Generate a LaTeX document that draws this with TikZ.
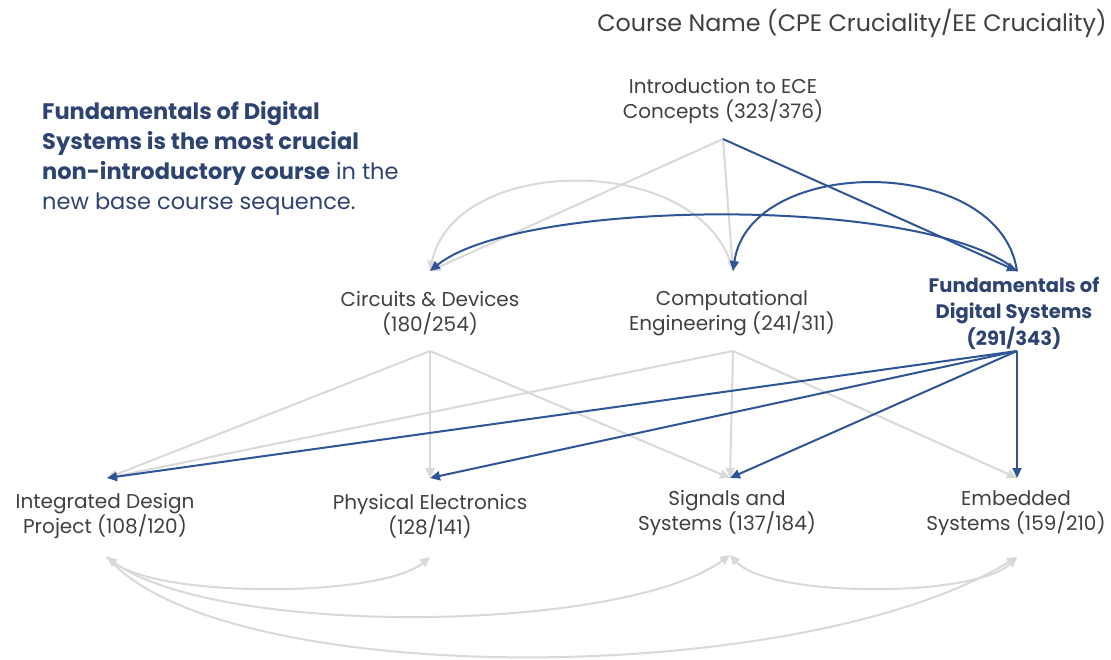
\documentclass[tikz,border=0pt]{standalone}
\usepackage{fontspec}
\setmainfont{Poppins}
\usetikzlibrary{arrows.meta}
\definecolor{lgray}{HTML}{D9D9D9}
\definecolor{lblue}{HTML}{2F5597}
\definecolor{tgray}{HTML}{404040}
\definecolor{tblue}{HTML}{2E4371}
\tikzset{
  course/.style={align=center, inner sep=0pt, text=tgray, font=\fontsize{20}{25}\selectfont},
  keycourse/.style={align=center, inner sep=0pt, text=tblue, font=\fontsize{19.5}{26.5}\selectfont\bfseries},
  gedge/.style={draw=lgray, line width=2pt, -{Triangle[length=10pt,width=9pt]}},
  bedge/.style={draw=lblue, line width=2pt, -{Triangle[length=10pt,width=9pt]}},
  gboth/.style={draw=lgray, line width=2pt, {Triangle[length=10pt,width=9pt]}-{Triangle[length=10pt,width=9pt]}},
}
\begin{document}
\begin{tikzpicture}[x=1pt,y=-1pt]
\useasboundingbox[fill=white] (0,0) rectangle (1111,659);
% header and note
\node[inner sep=0pt, text=tgray, font=\fontsize{23.8}{28}\selectfont] (hdr) at (852,23) {Course Name (CPE Cruciality/EE Cruciality)};
\node[anchor=north west, align=left, inner sep=0pt, text=tblue, font=\fontsize{22.5}{30}\selectfont] (note) at (42,101)
 {\textbf{Fundamentals of Digital}\\\textbf{Systems is the most crucial}\\\textbf{non-introductory course} in the\\new base course sequence.};
% course nodes
\node[course] (intro) at (723,101) {Introduction to ECE\\Concepts (323/376)};
\node[course] (cir) at (430,313) {Circuits \& Devices\\(180/254)};
\node[course] (comp) at (732,313) {Computational\\Engineering (241/311)};
\node[keycourse] (fds) at (1014,313) {Fundamentals of\\Digital Systems\\(291/343)};
\node[course] (idp) at (105,516) {Integrated Design\\Project (108/120)};
\node[course] (phy) at (430,516) {Physical Electronics\\(128/141)};
\node[course] (sig) at (727,513) {Signals and\\Systems (137/184)};
\node[course] (emb) at (1016,513) {Embedded\\Systems (159/210)};
% connection points
\coordinate (intro-b) at (723,139);
\coordinate (cir-t) at (430,271);
\coordinate (cir-b) at (430,351);
\coordinate (comp-t) at (733,271);
\coordinate (comp-b) at (733,351);
\coordinate (fds-t) at (1017,271);
\coordinate (fds-b) at (1017,351);
\coordinate (idp-t) at (107,478);
\coordinate (idp-b) at (107,557);
\coordinate (phy-t) at (430,478);
\coordinate (phy-b) at (430,557);
\coordinate (sig-t) at (730,478);
\coordinate (sig-b) at (730,555);
\coordinate (emb-t) at (1017,478);
\coordinate (emb-b) at (1017,557);
% gray edges
\draw[gedge] (intro-b) -- (cir-t);
\draw[gedge] (intro-b) -- (comp-t);
\draw[gedge] (comp-t) .. controls (705,152) and (455,152) .. (cir-t);
\draw[gedge] (cir-b) -- (idp-t);
\draw[gedge] (cir-b) -- (phy-t);
\draw[gedge] (cir-b) -- (sig-t);
\draw[gedge] (comp-b) -- (idp-t);
\draw[gedge] (comp-b) -- (sig-t);
\draw[gedge] (comp-b) -- (emb-t);
\draw[gboth] (idp-b) .. controls (160,598) and (380,598) .. (phy-b);
\draw[gedge] (idp-b) .. controls (200,638) and (620,635) .. (sig-b);
\draw[gedge] (idp-b) .. controls (220,690) and (800,690) .. (emb-b);
\draw[gboth] (sig-b) .. controls (770,598) and (975,598) .. (emb-b);
% blue edges
\draw[bedge] (intro-b) -- (fds-t);
\draw[bedge] (fds-t) .. controls (930,195) and (520,198) .. (cir-t);
\draw[bedge] (fds-t) .. controls (1000,154) and (750,154) .. (comp-t);
\draw[bedge] (fds-b) -- (idp-t);
\draw[bedge] (fds-b) -- (phy-t);
\draw[bedge] (fds-b) -- (sig-t);
\draw[bedge] (fds-b) -- (emb-t);
\end{tikzpicture}
\end{document}
